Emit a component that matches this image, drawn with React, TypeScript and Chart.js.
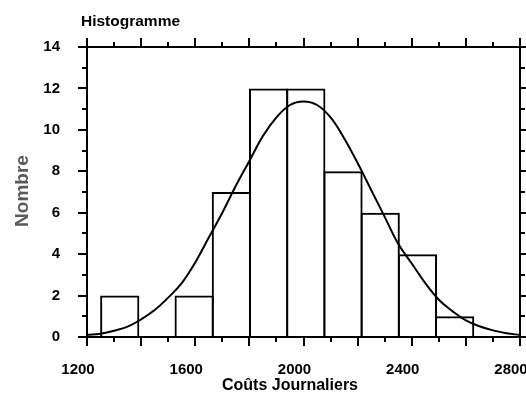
import React, { useEffect, useRef } from "react";
import { Chart, registerables } from "chart.js";

Chart.register(...registerables);

// Histogram bins (edges) and counts
const binEdges = [1252, 1390, 1527, 1665, 1802, 1940, 2077, 2215, 2352, 2490, 2627];
const binCounts = [2, 0, 2, 7, 12, 12, 8, 6, 4, 1];

// Fitted curve
const curveX = [1200, 1250, 1300, 1350, 1400, 1450, 1500, 1550, 1600, 1650, 1700, 1750, 1800, 1850, 1900, 1950, 2000, 2050, 2100, 2150, 2200, 2250, 2300, 2350, 2400, 2450, 2500, 2550, 2600, 2650, 2700, 2750, 2800];
const curveY = [0.1, 0.16, 0.3, 0.5, 0.85, 1.3, 1.9, 2.6, 3.6, 4.8, 6.0, 7.3, 8.5, 9.7, 10.6, 11.2, 11.37, 11.2, 10.6, 9.6, 8.4, 7.1, 5.8, 4.5, 3.55, 2.6, 1.8, 1.25, 0.8, 0.52, 0.32, 0.18, 0.1];

const xTickLabels = [1200, 1600, 2000, 2400, 2800];
const yTickLabels = [0, 2, 4, 6, 8, 10, 12, 14];

const titleText = "Histogramme";
const xTitle = "Coûts Journaliers";
const yTitle = "Nombre";

const FONT = "'Liberation Sans', Arial, sans-serif";

const framePlugin = {
  id: "frameTicks",
  afterDatasetsDraw(chart: any) {
    const { ctx, chartArea, scales } = chart;
    const { left, right, top, bottom } = chartArea;
    const x = scales.x;
    const y = scales.y;
    ctx.save();
    ctx.strokeStyle = "#000";
    ctx.lineWidth = 2;
    ctx.strokeRect(left, top, right - left, bottom - top);
    ctx.beginPath();
    for (let v = x.min; v <= x.max; v += 100) {
      const px = Math.round(x.getPixelForValue(v));
      const len = (v - x.min) % 200 === 0 ? 9 : 5;
      ctx.moveTo(px, bottom);
      ctx.lineTo(px, bottom + len);
      ctx.moveTo(px, top);
      ctx.lineTo(px, top - len);
    }
    for (let v = y.min; v <= y.max; v += 1) {
      const py = Math.round(y.getPixelForValue(v));
      const len = v % 2 === 0 ? 9 : 5;
      ctx.moveTo(left, py);
      ctx.lineTo(left - len, py);
      ctx.moveTo(right, py);
      ctx.lineTo(right + len, py);
    }
    ctx.stroke();

    ctx.fillStyle = "#000";
    ctx.textBaseline = "middle";
    ctx.textAlign = "left";
    ctx.font = `bold 15.5px ${FONT}`;
    ctx.fillText(titleText, 81, 22);

    ctx.textAlign = "center";
    ctx.font = `bold 16px ${FONT}`;
    ctx.fillText(xTitle, 290, 386);

    ctx.save();
    ctx.translate(23, 191);
    ctx.rotate(-Math.PI / 2);
    ctx.fillStyle = "#5a5a5a";
    ctx.font = `bold 19px ${FONT}`;
    ctx.fillText(yTitle, 0, 0);
    ctx.restore();

    ctx.restore();
  },
};

export default function App() {
  const ref = useRef<HTMLCanvasElement | null>(null);

  useEffect(() => {
    if (!ref.current) return;
    const centers = binCounts.map((_, i) => (binEdges[i] + binEdges[i + 1]) / 2);
    const chart = new Chart(ref.current, {
      type: "bar",
      data: {
        datasets: [
          {
            type: "line",
            label: "Courbe",
            data: curveX.map((v, i) => ({ x: v, y: curveY[i] })),
            borderColor: "#000",
            borderWidth: 2,
            pointRadius: 0,
            fill: false,
            tension: 0.4,
            order: 0,
          } as any,
          {
            type: "bar",
            label: "Nombre",
            data: centers.map((c, i) => ({ x: c, y: binCounts[i] })),
            backgroundColor: "rgba(0,0,0,0)",
            borderColor: "#000",
            borderWidth: 2,
            barPercentage: 1.054,
            categoryPercentage: 1,
            grouped: false,
            order: 1,
          } as any,
        ],
      },
      options: {
        animation: false,
        responsive: false,
        layout: { padding: { top: 47, right: 6, left: 0, bottom: 0 } },
        plugins: { legend: { display: false }, tooltip: { enabled: false }, title: { display: false } },
        scales: {
          x: {
            type: "linear",
            min: 1200,
            max: 2800,
            offset: false,
            grid: { display: false, drawTicks: false },
            border: { display: false },
            afterBuildTicks: (s: any) => {
              s.ticks = xTickLabels.map((v) => ({ value: v }));
            },
            afterFit: (s: any) => {
              s.height = 66;
              s.paddingLeft = 0;
              s.paddingRight = 0;
            },
            ticks: {
              color: "#000",
              padding: 24,
              labelOffset: -9,
              maxRotation: 0,
              callback: (v: any) => String(v),
              font: { family: FONT, size: 15, weight: "bold" },
            },
          },
          y: {
            type: "linear",
            min: 0,
            max: 14,
            grid: { display: false, drawTicks: false },
            border: { display: false },
            afterBuildTicks: (s: any) => {
              s.ticks = yTickLabels.map((v) => ({ value: v }));
            },
            afterFit: (s: any) => {
              s.width = 87;
              s.paddingTop = 0;
              s.paddingBottom = 0;
            },
            ticks: {
              color: "#000",
              padding: 27,
              callback: (v: any) => String(v),
              font: { family: FONT, size: 15, weight: "bold" },
            },
          },
        },
      },
      plugins: [framePlugin],
    });
    return () => chart.destroy();
  }, []);

  return (
    <div style={{ position: "absolute", left: 0, top: 0, width: 526, height: 403, background: "#fff" }}>
      <canvas ref={ref} width={526} height={403} />
    </div>
  );
}
